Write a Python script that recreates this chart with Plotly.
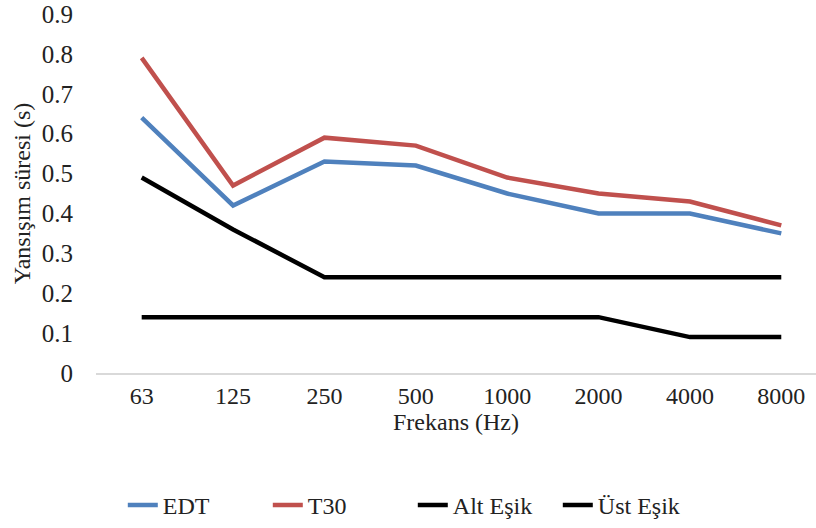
import plotly.graph_objects as go

freqs = ["63", "125", "250", "500", "1000", "2000", "4000", "8000"]
edt = [0.64, 0.42, 0.53, 0.52, 0.45, 0.40, 0.40, 0.35]
t30 = [0.79, 0.47, 0.59, 0.57, 0.49, 0.45, 0.43, 0.37]
alt_esik = [0.14, 0.14, 0.14, 0.14, 0.14, 0.14, 0.09, 0.09]
ust_esik = [0.49, 0.36, 0.24, 0.24, 0.24, 0.24, 0.24, 0.24]

series = [
    ("EDT", edt, "#4F81BD"),
    ("T30", t30, "#C0504D"),
    ("Alt Eşik", alt_esik, "#000000"),
    ("Üst Eşik", ust_esik, "#000000"),
]

fig = go.Figure()
for name, vals, col in series:
    fig.add_trace(go.Scatter(x=freqs, y=vals, name=name, mode="lines",
                             line=dict(color=col, width=4.5)))

font = "Liberation Serif"
fig.update_layout(
    width=816, height=528,
    margin=dict(l=96, r=0, t=14, b=153),
    paper_bgcolor="white", plot_bgcolor="white",
    font=dict(family=font, size=24, color="#222"),
    showlegend=True,
    legend=dict(orientation="h", x=0.44, xanchor="center", y=-0.37, yanchor="middle",
                font=dict(size=24, family=font), entrywidth=100, entrywidthmode="pixels"),
    xaxis=dict(type="category", range=[-0.5, 7.38], showgrid=False,
               showline=True, linecolor="#d9d9d9", linewidth=1.5,
               ticks="", tickfont=dict(size=24, family=font),
               title=dict(text="Frekans (Hz)", font=dict(size=24, family=font), standoff=4)),
    yaxis=dict(range=[0, 0.9], dtick=0.1, showgrid=False, zeroline=False,
               showline=False, ticks="", tickfont=dict(size=25, family=font),
               ticklabelstandoff=22,
               title=dict(text="Yansışım süresi (s)", font=dict(size=24, family=font), standoff=4)),
)
fig.write_html("out.html")
